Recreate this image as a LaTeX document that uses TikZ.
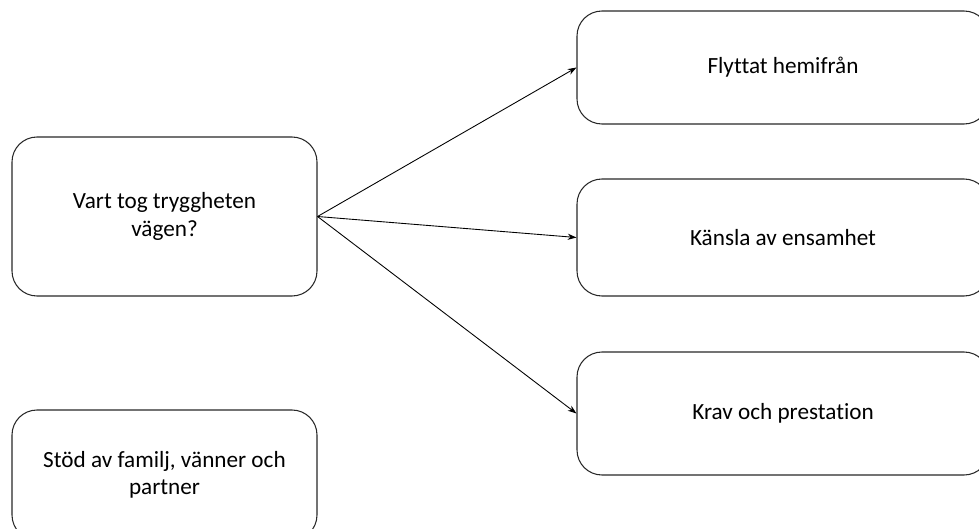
\documentclass[tikz,border=0pt]{standalone}
\usepackage{fontspec}
\setmainfont{Carlito}[Ligatures=NoCommon]
\usetikzlibrary{arrows.meta, positioning}
\definecolor{edge}{RGB}{40, 40, 40}

\begin{document}
\begin{tikzpicture}[font=\fontsize{13.2}{15.5}\selectfont,
    box/.style={draw=edge, line width=0.6pt, rounded corners=0.5cm, align=center, inner sep=0pt},
    link/.style={-{Stealth[length=5pt, width=3.5pt]}, line width=0.5pt}]
        \clip (0,0) rectangle (19.58,10.56);
        \node[box, minimum width=6.1cm, minimum height=3.18cm] (vag) at (3.29,6.23) {Vart tog tryggheten\\vägen?};
        \node[box, minimum width=6.1cm, minimum height=2.6cm] (stod) at (3.29,1.06) {Stöd av familj, vänner och\\partner};
        \foreach \i/\y/\h/\desc in {
            1/9.21/2.26/{Flyttat hemifrån},
            2/5.81/2.34/{Känsla av ensamhet},
            3/2.29/2.46/{Krav och prestation}}
        {
            \node[box, minimum width=8.24cm, minimum height=\h cm] (orsak\i) at (15.66,\y) {\desc};
            \draw[link] (vag.east) -- (orsak\i.west);
        }
    \end{tikzpicture}
\end{document}
